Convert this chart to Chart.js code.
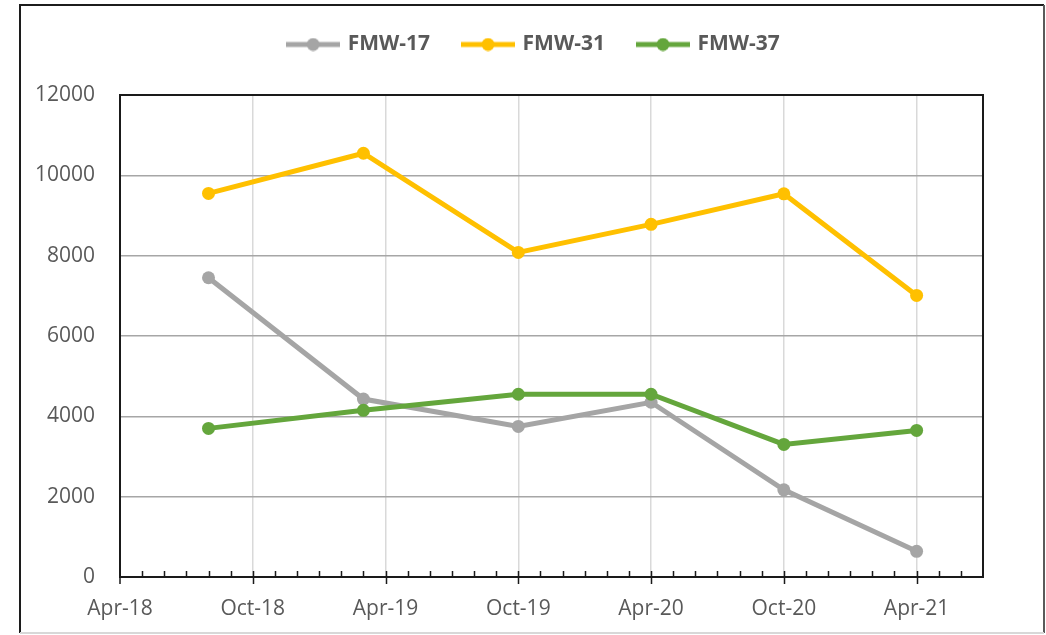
<!DOCTYPE html>
<html lang="en">
<head>
    <meta charset="UTF-8">
    <title>FMW wells</title>
    <script src="https://cdn.jsdelivr.net/npm/chart.js@4.4.0/dist/chart.umd.min.js"></script>
    <style>
        body { margin: 0; background: #fff; }
        #wrap { width: 1046px; height: 635px; }
    </style>
</head>
<body>
    <div id="wrap"><canvas id="wellChart" width="1046" height="635"></canvas></div>
    <script>
        // months counted from Apr-18
        const sampleMonths = [4, 11, 18, 24, 30, 36];
        const fmw17 = [7450, 4430, 3750, 4350, 2170, 640];
        const fmw31 = [9550, 10550, 8080, 8780, 9540, 7010];
        const fmw37 = [3700, 4150, 4550, 4550, 3300, 3650];
        const xTickLabels = ['Apr-18', 'Oct-18', 'Apr-19', 'Oct-19', 'Apr-20', 'Oct-20', 'Apr-21'];
        const seriesNames = ['FMW-17', 'FMW-31', 'FMW-37'];
        const seriesColors = ['#A5A5A5', '#FFC000', '#64A63C'];

        const xMin = 0, xMax = 39, xStep = 6;

        function legendIcon(color) {
            const c = document.createElement('canvas');
            c.width = 54; c.height = 14;
            const g = c.getContext('2d');
            g.strokeStyle = color; g.lineWidth = 5;
            g.beginPath(); g.moveTo(0, 7); g.lineTo(54, 7); g.stroke();
            g.fillStyle = color;
            g.beginPath(); g.arc(27, 7, 6.5, 0, Math.PI * 2); g.fill();
            return c;
        }
        const legendIcons = seriesColors.map(legendIcon);

        const toPoints = vals => vals.map((v, i) => ({ x: sampleMonths[i], y: v }));

        const framePlugin = {
            id: 'frame',
            beforeDraw(chart) {
                const ctx = chart.ctx;
                ctx.save();
                ctx.fillStyle = '#fff';
                ctx.fillRect(0, 0, chart.width, chart.height);
                ctx.lineWidth = 2;
                ctx.strokeStyle = '#1c1c1c';
                ctx.beginPath();
                ctx.moveTo(20, 633); ctx.lineTo(20, 5); ctx.lineTo(1044, 5);
                ctx.stroke();
                ctx.strokeStyle = '#5a5a5a';
                ctx.beginPath(); ctx.moveTo(1044, 5); ctx.lineTo(1044, 633); ctx.stroke();
                ctx.strokeStyle = '#d8d8d8';
                ctx.beginPath(); ctx.moveTo(20, 633); ctx.lineTo(1044, 633); ctx.stroke();
                ctx.restore();
            },
            afterLayout(chart) {
                chart.legend.left += 43;
                chart.legend.right += 43;
            },
            beforeDatasetsDraw(chart) {
                const ctx = chart.ctx;
                const a = chart.chartArea;
                const xs = chart.scales.x;
                ctx.save();
                ctx.strokeStyle = '#1a1a1a';
                ctx.lineWidth = 2;
                ctx.strokeRect(a.left, a.top, a.right - a.left, a.bottom - a.top);
                ctx.lineWidth = 1.5;
                ctx.beginPath();
                for (let m = xMin + 1; m < xMax; m++) {
                    const px = Math.round(xs.getPixelForValue(m)) + 0.5;
                    if (m % xStep === 0) {
                        ctx.moveTo(px, a.bottom - 6); ctx.lineTo(px, a.bottom + 7);
                    } else {
                        ctx.moveTo(px, a.bottom - 6); ctx.lineTo(px, a.bottom);
                    }
                }
                const p0 = xs.getPixelForValue(xMin);
                ctx.moveTo(p0, a.bottom); ctx.lineTo(p0, a.bottom + 7);
                ctx.stroke();
                ctx.restore();
            }
        };

        const legendSpace = {
            id: 'legendSpace',
            beforeInit(chart) {
                const fit = chart.legend.fit;
                chart.legend.fit = function () {
                    fit.bind(chart.legend)();
                    this.height += 30;
                };
            }
        };

        const ticksFont = { family: '"Open Sans", sans-serif', size: 21 };

        new Chart(document.getElementById('wellChart'), {
            type: 'line',
            data: {
                datasets: [fmw17, fmw31, fmw37].map((vals, i) => ({
                    label: seriesNames[i],
                    data: toPoints(vals),
                    borderColor: seriesColors[i],
                    backgroundColor: seriesColors[i],
                    borderWidth: 5,
                    pointRadius: 6.5,
                    pointBorderWidth: 0,
                    tension: 0,
                    order: 2 - i
                }))
            },
            options: {
                responsive: false,
                animation: false,
                layout: { padding: { left: 0, right: 63, top: 0, bottom: 0 } },
                plugins: {
                    tooltip: { enabled: false },
                    legend: {
                        position: 'top',
                        labels: {
                            usePointStyle: true,
                            pointStyleWidth: 48,
                            padding: 34,
                            color: '#595959',
                            font: { family: '"Open Sans", sans-serif', size: 21, weight: 'bold' },
                            sort: (a, b) => a.datasetIndex - b.datasetIndex,
                            generateLabels(chart) {
                                const items = Chart.defaults.plugins.legend.labels.generateLabels(chart);
                                items.forEach(it => { it.pointStyle = legendIcons[it.datasetIndex]; });
                                return items;
                            }
                        }
                    }
                },
                scales: {
                    x: {
                        type: 'linear',
                        min: xMin,
                        max: xMax,
                        afterFit(scale) { scale.height = 58; },
                        border: { display: false },
                        grid: { color: '#D9D9D9', lineWidth: 1.5, drawTicks: false, tickLength: 0 },
                        ticks: {
                            stepSize: xStep,
                            includeBounds: false,
                            autoSkip: false,
                            maxRotation: 0,
                            padding: 19,
                            color: '#595959',
                            font: ticksFont,
                            callback: v => xTickLabels[v / xStep] ?? ''
                        }
                    },
                    y: {
                        min: 0,
                        max: 12000,
                        afterFit(scale) { scale.width = 120; },
                        border: { display: false },
                        grid: { color: '#A6A6A6', lineWidth: 1.5, drawTicks: false, tickLength: 0 },
                        ticks: {
                            stepSize: 2000,
                            padding: 25,
                            color: '#595959',
                            font: ticksFont,
                            callback: v => String(v)
                        }
                    }
                }
            },
            plugins: [framePlugin, legendSpace]
        });
    </script>
</body>
</html>
